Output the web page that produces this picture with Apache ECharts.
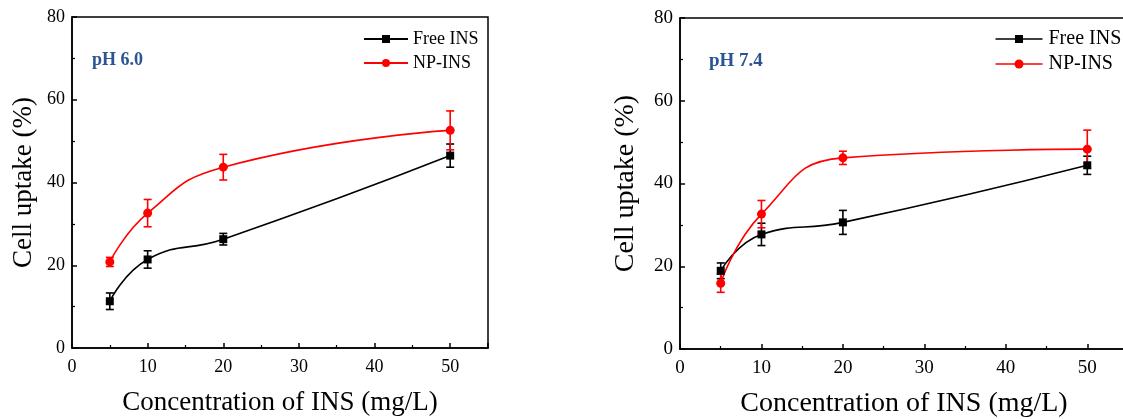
<!DOCTYPE html>
<html>
<head>
<meta charset="utf-8">
<script src="https://cdn.jsdelivr.net/npm/echarts@6/dist/echarts.min.js"></script>
<style>
html,body{margin:0;padding:0;background:#fff;}
#c{width:1123px;height:419px;}
</style>
</head>
<body>
<div id="c"></div>
<script>
// ---- data ----
const concentrations = [5, 10, 20, 50];
const free60 = [11.3, 21.4, 26.3, 46.5];
const free60Err = [2.0, 2.1, 1.4, 2.8];
const np60 = [20.8, 32.6, 43.7, 52.6];
const np60Err = [1.1, 3.3, 3.1, 4.7];
const free74 = [18.9, 27.7, 30.6, 44.4];
const free74Err = [1.9, 2.7, 2.9, 2.2];
const np74 = [15.9, 32.6, 46.2, 48.3];
const np74Err = [2.2, 3.3, 1.6, 4.6];
const panelLabels = ['pH 6.0', 'pH 7.4'];
const seriesNames = ['Free INS', 'NP-INS'];
const xTicks = [0, 10, 20, 30, 40, 50];
const yTicks = [0, 20, 40, 60, 80];

const FONT = "'Liberation Serif','Times New Roman',serif";
const BLACK = '#000';
const RED = '#ff0000';

function pairs(xs, ys) { return xs.map((x, i) => [x, ys[i]]); }
function errData(xs, ys, es) { return xs.map((x, i) => [x, ys[i] - es[i], ys[i] + es[i]]); }

function errSeries(idx, data, color) {
  return {
    type: 'custom',
    xAxisIndex: idx, yAxisIndex: idx,
    data: data,
    encode: { x: 0, y: [1, 2] },
    z: 3,
    silent: true,
    renderItem: function (params, api) {
      const x = api.value(0);
      const lo = api.coord([x, api.value(1)]);
      const hi = api.coord([x, api.value(2)]);
      const w = 4;
      const style = { stroke: color, lineWidth: 1.6, fill: null };
      return {
        type: 'group',
        children: [
          { type: 'line', shape: { x1: lo[0], y1: lo[1], x2: hi[0], y2: hi[1] }, style: style },
          { type: 'line', shape: { x1: lo[0] - w, y1: lo[1], x2: lo[0] + w, y2: lo[1] }, style: style },
          { type: 'line', shape: { x1: hi[0] - w, y1: hi[1], x2: hi[0] + w, y2: hi[1] }, style: style }
        ]
      };
    }
  };
}

function lineSeries(idx, name, data, color, symbol) {
  return {
    type: 'line',
    name: name,
    xAxisIndex: idx, yAxisIndex: idx,
    data: data,
    smooth: 0.5,
    symbol: symbol,
    symbolSize: symbol === 'rect' ? 8 : 9,
    lineStyle: { color: color, width: 1.6 },
    itemStyle: { color: color },
    z: 4
  };
}

function xAxis(idx, fs, nameFs, nameGap) {
  return {
    type: 'value', gridIndex: idx, min: 0, max: 55, interval: 10,
    name: 'Concentration of INS (mg/L)', nameLocation: 'middle', nameGap: nameGap,
    nameTextStyle: { fontFamily: FONT, fontSize: nameFs, color: BLACK },
    axisLine: { lineStyle: { color: BLACK, width: 1.5 } },
    axisTick: { inside: true, length: 5, lineStyle: { color: BLACK, width: 1.5 } },
    minorTick: { show: true, splitNumber: 2, length: 3, lineStyle: { color: BLACK, width: 1.2 } },
    axisLabel: { fontFamily: FONT, fontSize: fs, color: BLACK, margin: 10, showMaxLabel: false,
      formatter: v => (xTicks.indexOf(v) >= 0 ? String(v) : '') },
    splitLine: { show: false }
  };
}
function yAxis(idx, fs, nameFs, nameGap) {
  return {
    type: 'value', gridIndex: idx, min: 0, max: 80, interval: 20,
    name: 'Cell uptake (%)', nameLocation: 'middle', nameGap: nameGap,
    nameTextStyle: { fontFamily: FONT, fontSize: nameFs, color: BLACK },
    axisLine: { show: true, lineStyle: { color: BLACK, width: 1.5 } },
    axisTick: { show: true, inside: true, length: 5, lineStyle: { color: BLACK, width: 1.5 } },
    minorTick: { show: true, splitNumber: 2, length: 3, lineStyle: { color: BLACK, width: 1.2 } },
    axisLabel: { fontFamily: FONT, fontSize: fs, color: BLACK, margin: 7,
      formatter: v => (yTicks.indexOf(v) >= 0 ? String(v) : '') },
    splitLine: { show: false }
  };
}

const chart = echarts.init(document.getElementById('c'), null, { renderer: 'canvas' });
chart.setOption({
  animation: false,
  backgroundColor: '#fff',
  grid: [
    { left: 72, top: 17, width: 416, height: 331, outerBoundsMode: 'none', containLabel: false, show: true, borderColor: BLACK, borderWidth: 1.5, backgroundColor: 'transparent' },
    { left: 680, top: 18, width: 448, height: 331, outerBoundsMode: 'none', containLabel: false, show: true, borderColor: BLACK, borderWidth: 1.5, backgroundColor: 'transparent' }
  ],
  xAxis: [xAxis(0, 18, 27, 41), xAxis(1, 19, 28, 41)],
  yAxis: [yAxis(0, 18, 27, 35), yAxis(1, 19, 28, 40)],
  legend: [
    { orient: 'vertical', left: 363, top: 30, padding: 0, itemWidth: 44, itemHeight: 10, itemGap: 6,
      textStyle: { fontFamily: FONT, fontSize: 18, color: BLACK, padding: [0, 0, 0, 0] },
      data: seriesNames.map(n => ({ name: n })) },
  ],
  graphic: [
    { type: 'text', left: 92, top: 51, style: { text: panelLabels[0], font: "bold 18px " + FONT, fill: '#2b5592' } },
    { type: 'text', left: 709, top: 52, style: { text: panelLabels[1], font: "bold 19px " + FONT, fill: '#2b5592' } },
    // right-panel legend (drawn from series names, mirrors left legend)
    { type: 'group', left: 993, top: 29, children: [
      { type: 'line', shape: { x1: 0, y1: 9, x2: 47, y2: 9 }, style: { stroke: BLACK, lineWidth: 1.6 } },
      { type: 'rect', shape: { x: 19.5, y: 5, width: 8, height: 8 }, style: { fill: BLACK } },
      { type: 'text', x: 53, y: 9, style: { text: seriesNames[0], font: "20px " + FONT, fill: BLACK, verticalAlign: 'middle' } },
      { type: 'line', shape: { x1: 0, y1: 34, x2: 47, y2: 34 }, style: { stroke: RED, lineWidth: 1.6 } },
      { type: 'circle', shape: { cx: 23.5, cy: 34, r: 4.5 }, style: { fill: RED } },
      { type: 'text', x: 53, y: 34, style: { text: seriesNames[1], font: "20px " + FONT, fill: BLACK, verticalAlign: 'middle' } }
    ] }
  ],
  series: [
    errSeries(0, errData(concentrations, free60, free60Err), BLACK),
    errSeries(0, errData(concentrations, np60, np60Err), RED),
    lineSeries(0, seriesNames[0], pairs(concentrations, free60), BLACK, 'rect'),
    lineSeries(0, seriesNames[1], pairs(concentrations, np60), RED, 'circle'),
    errSeries(1, errData(concentrations, free74, free74Err), BLACK),
    errSeries(1, errData(concentrations, np74, np74Err), RED),
    lineSeries(1, seriesNames[0] + ' ', pairs(concentrations, free74), BLACK, 'rect'),
    lineSeries(1, seriesNames[1] + ' ', pairs(concentrations, np74), RED, 'circle')
  ]
});
</script>
</body>
</html>
